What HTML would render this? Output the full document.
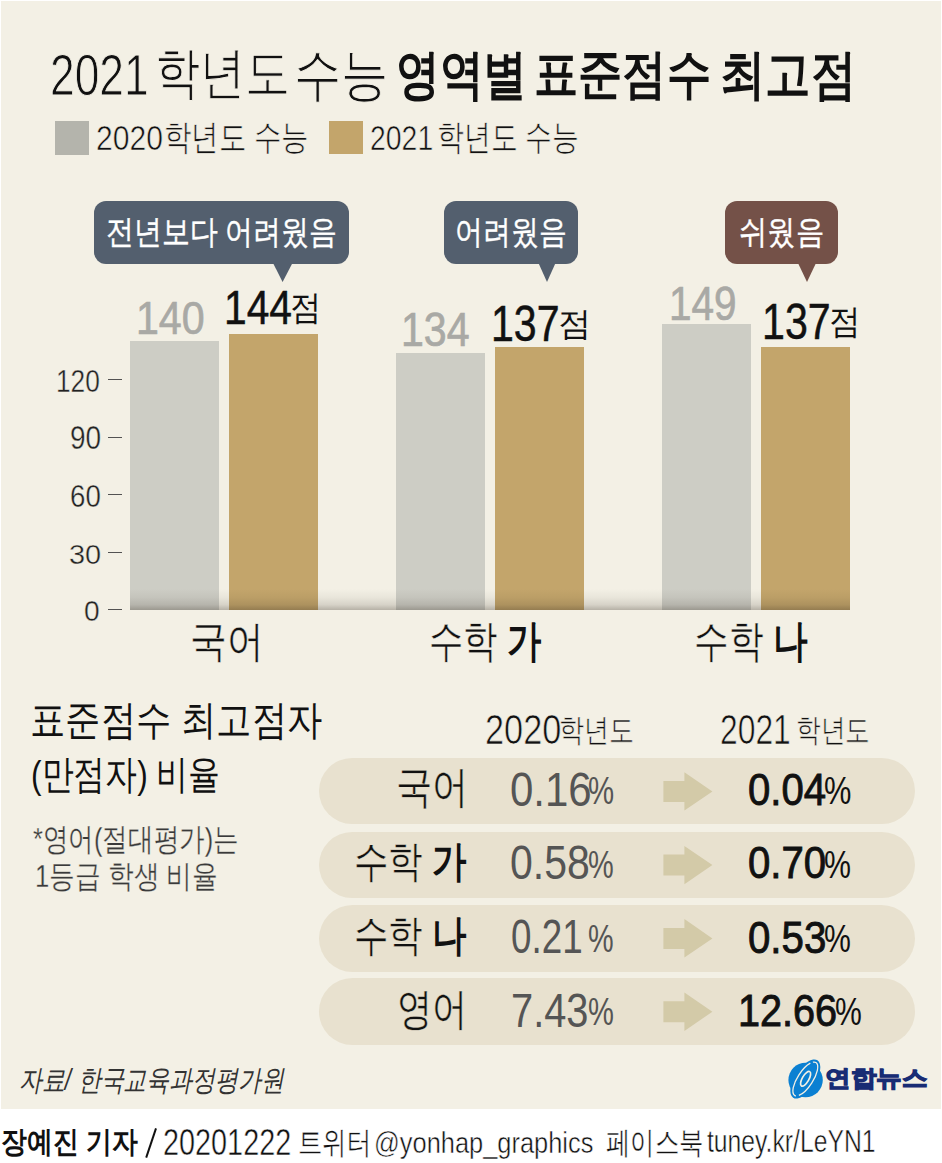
<!DOCTYPE html>
<html><head><meta charset="utf-8"><style>
html,body{margin:0;padding:0;background:#fff;width:942px;height:1163px;overflow:hidden;position:relative;font-family:"Liberation Sans",sans-serif}
.s{position:absolute}
.t{position:absolute;white-space:nowrap;line-height:1;transform-origin:0 0}
</style></head><body>
<div class="s" style="left:1px;top:1px;width:940px;height:1108px;background:#f3f0e5"></div>
<div class="s" style="left:55px;top:121px;width:34px;height:34px;background:#b4b4ac"></div>
<div class="s" style="left:329px;top:121px;width:34px;height:33px;background:#c3a56b"></div>
<!-- bubbles -->
<div class="s" style="left:94px;top:201px;width:255px;height:62.5px;border-radius:12px;background:#535f6e"></div>
<svg class="s" style="left:0;top:0" width="942" height="300"><polygon points="272.5,262 293,262 282.6,282" fill="#535f6e"/><polygon points="538,262 556,262 547,282" fill="#535f6e"/><polygon points="797.5,262 816.5,262 807,282" fill="#745148"/></svg>
<div class="s" style="left:444px;top:200.5px;width:134px;height:63px;border-radius:12px;background:#535f6e"></div>
<div class="s" style="left:725px;top:200.5px;width:113px;height:63px;border-radius:12px;background:#745148"></div>
<!-- bars -->
<div class="s" style="left:130px;top:341px;width:88.5px;height:268.5px;background:#cdcdc5"></div>
<div class="s" style="left:229px;top:333.5px;width:89px;height:276px;background:#c3a56b"></div>
<div class="s" style="left:396px;top:353px;width:88.6px;height:256.5px;background:#cdcdc5"></div>
<div class="s" style="left:495px;top:347px;width:89px;height:262.5px;background:#c3a56b"></div>
<div class="s" style="left:662px;top:324px;width:89px;height:285.5px;background:#cdcdc5"></div>
<div class="s" style="left:761px;top:347px;width:89px;height:262.5px;background:#c3a56b"></div>
<div class="s" style="left:130px;top:589px;width:720px;height:20.6px;background:linear-gradient(rgba(40,30,20,0) 0%,rgba(40,30,20,0.05) 40%,rgba(40,30,20,0.14) 75%,rgba(40,30,20,0.3) 100%)"></div>
<!-- ticks -->
<div class="s" style="left:108.4px;top:379px;width:13.5px;height:1px;background:#525252"></div>
<div class="s" style="left:108.4px;top:437px;width:13.5px;height:1px;background:#525252"></div>
<div class="s" style="left:108.4px;top:494px;width:13.5px;height:1px;background:#525252"></div>
<div class="s" style="left:108.4px;top:552px;width:13.5px;height:1px;background:#525252"></div>
<div class="s" style="left:108.4px;top:609px;width:13.5px;height:1px;background:#525252"></div>
<!-- pills -->
<div class="s" style="left:318.5px;top:758px;width:596px;height:66.4px;border-radius:33.2px;background:#e8e1cf"></div>
<div class="s" style="left:318.5px;top:831.5px;width:596px;height:66.5px;border-radius:33.2px;background:#e8e1cf"></div>
<div class="s" style="left:318.5px;top:904.6px;width:596px;height:67.2px;border-radius:33.6px;background:#e8e1cf"></div>
<div class="s" style="left:318.5px;top:978px;width:596px;height:66.9px;border-radius:33.4px;background:#e8e1cf"></div>
<!-- arrows -->
<svg class="s" style="left:0;top:0" width="942" height="1163">
<g fill="#d3caa8">
<polygon points="663.4,780.9 684.4,780.9 684.4,772.2 712.4,791.4 684.4,810.6 684.4,801.9 663.4,801.9"/>
<polygon points="663.4,854.6 684.4,854.6 684.4,845.9 712.4,865.1 684.4,884.3 684.4,875.6 663.4,875.6"/>
<polygon points="663.4,927.9 684.4,927.9 684.4,919.1 712.4,938.4 684.4,957.6 684.4,948.9 663.4,948.9"/>
<polygon points="663.4,1001.2 684.4,1001.2 684.4,992.5 712.4,1011.7 684.4,1030.9 684.4,1022.2 663.4,1022.2"/>
</g>
<line x1="146.2" y1="1157.6" x2="156" y2="1128.4" stroke="#111" stroke-width="2"/>
<!-- logo -->
<g transform="translate(780,1052)">
<circle cx="25.6" cy="28" r="17.2" fill="#0b80d2"/>
<ellipse cx="25.3" cy="27" rx="22.3" ry="10.5" transform="rotate(-57 25.3 27)" fill="#0b80d2"/>
<ellipse cx="25.3" cy="27" rx="19.6" ry="7.6" transform="rotate(-57 25.3 27)" fill="none" stroke="#f3f0e5" stroke-width="1.3" stroke-dasharray="40 3 40 3"/>
<ellipse cx="25.6" cy="26.8" rx="8.3" ry="3.3" transform="rotate(-60 25.6 26.8)" fill="none" stroke="#f3f0e5" stroke-width="1.7"/>
</g>
</svg>
<div class="t thin" id="title1" style="left:50.35px;top:45.88px;font-size:58.19px;transform:scaleX(0.7618);color:#111;font-weight:400;-webkit-text-stroke:1.00px #f3f0e5">2021</div>
<div class="t thin" id="title1k" style="left:155.24px;top:44.90px;font-size:56.15px;transform:scaleX(0.8061);color:#111;font-weight:400;-webkit-text-stroke:1.00px #f3f0e5">학년도</div>
<div class="t thin" id="title1s" style="left:293.81px;top:46.70px;font-size:56.54px;transform:scaleX(0.8301);color:#111;font-weight:400;-webkit-text-stroke:1.00px #f3f0e5">수능</div>
<div class="t" id="title2" style="left:396.05px;top:47.12px;font-size:54.15px;transform:scaleX(0.8094);color:#111;font-weight:700">영역별</div>
<div class="t" id="title2b" style="left:533.99px;top:47.82px;font-size:52.86px;transform:scaleX(0.8342);color:#111;font-weight:700">표준점수</div>
<div class="t" id="title2c" style="left:719.93px;top:47.96px;font-size:53.50px;transform:scaleX(0.8394);color:#111;font-weight:700">최고점</div>
<div class="t thin" id="leg1" style="left:95.59px;top:121.30px;font-size:35.43px;transform:scaleX(0.8508);color:#111;font-weight:400;-webkit-text-stroke:0.60px #f3f0e5">2020</div>
<div class="t thin" id="leg1k" style="left:163.50px;top:120.08px;font-size:34.88px;transform:scaleX(0.7842);color:#111;font-weight:400;-webkit-text-stroke:0.60px #f3f0e5">학년도 수능</div>
<div class="t thin" id="leg2" style="left:370.08px;top:121.30px;font-size:35.43px;transform:scaleX(0.8019);color:#111;font-weight:400;-webkit-text-stroke:0.60px #f3f0e5">2021</div>
<div class="t thin" id="leg2k" style="left:437.40px;top:119.60px;font-size:34.95px;transform:scaleX(0.7673);color:#111;font-weight:400;-webkit-text-stroke:0.60px #f3f0e5">학년도 수능</div>
<div class="t" id="bub1" style="left:105.62px;top:214.69px;font-size:33.05px;transform:scaleX(0.8460);color:#fff;font-weight:400;-webkit-text-stroke:0.40px #fff">전년보다 어려웠음</div>
<div class="t" id="bub2" style="left:454.63px;top:214.69px;font-size:33.05px;transform:scaleX(0.8451);color:#fff;font-weight:400;-webkit-text-stroke:0.40px #fff">어려웠음</div>
<div class="t" id="bub3" style="left:738.98px;top:214.69px;font-size:33.05px;transform:scaleX(0.8572);color:#fff;font-weight:400;-webkit-text-stroke:0.40px #fff">쉬웠음</div>
<div class="t" id="v140" style="left:136.40px;top:295.46px;font-size:46.23px;transform:scaleX(0.8892);color:#a9a9a5;font-weight:400;-webkit-text-stroke:0.70px #a9a9a5">140</div>
<div class="t" id="v144" style="left:223.96px;top:282.97px;font-size:48.09px;transform:scaleX(0.8481);color:#111;font-weight:400;-webkit-text-stroke:0.50px #111">144</div>
<div class="t" id="v144j" style="left:290.08px;top:291.16px;font-size:33.84px;transform:scaleX(0.9210);color:#111;font-weight:400">점</div>
<div class="t" id="v134" style="left:401.10px;top:305.27px;font-size:48.37px;transform:scaleX(0.8495);color:#a9a9a5;font-weight:400;-webkit-text-stroke:0.70px #a9a9a5">134</div>
<div class="t" id="v137a" style="left:490.95px;top:300.07px;font-size:49.10px;transform:scaleX(0.8374);color:#111;font-weight:400;-webkit-text-stroke:0.50px #111">137</div>
<div class="t" id="v137aj" style="left:558.24px;top:306.99px;font-size:33.05px;transform:scaleX(1.0074);color:#111;font-weight:400">점</div>
<div class="t" id="v149" style="left:668.95px;top:278.90px;font-size:48.47px;transform:scaleX(0.8361);color:#a9a9a5;font-weight:400;-webkit-text-stroke:0.70px #a9a9a5">149</div>
<div class="t" id="v137b" style="left:761.57px;top:298.17px;font-size:49.10px;transform:scaleX(0.8381);color:#111;font-weight:400;-webkit-text-stroke:0.50px #111">137</div>
<div class="t" id="v137bj" style="left:829.13px;top:305.15px;font-size:33.84px;transform:scaleX(0.9299);color:#111;font-weight:400">점</div>
<div class="t thin" id="y120" style="left:56.48px;top:364.70px;font-size:32.26px;transform:scaleX(0.8148);color:#222;font-weight:400;-webkit-text-stroke:0.40px #f3f0e5">120</div>
<div class="t thin" id="y90" style="left:69.82px;top:422.43px;font-size:32.67px;transform:scaleX(0.8571);color:#222;font-weight:400;-webkit-text-stroke:0.40px #f3f0e5">90</div>
<div class="t thin" id="y60" style="left:69.72px;top:480.54px;font-size:31.79px;transform:scaleX(0.8708);color:#222;font-weight:400;-webkit-text-stroke:0.40px #f3f0e5">60</div>
<div class="t thin" id="y30" style="left:69.22px;top:539.59px;font-size:28.35px;transform:scaleX(1.0204);color:#222;font-weight:400;-webkit-text-stroke:0.40px #f3f0e5">30</div>
<div class="t thin" id="y0" style="left:84.34px;top:597.03px;font-size:29.14px;transform:scaleX(0.9661);color:#222;font-weight:400;-webkit-text-stroke:0.40px #f3f0e5">0</div>
<div class="t thin" id="cat1" style="left:189.65px;top:619.70px;font-size:43.25px;transform:scaleX(0.8554);color:#111;font-weight:400;-webkit-text-stroke:0.40px #f3f0e5">국어</div>
<div class="t thin" id="cat2" style="left:428.66px;top:618.90px;font-size:43.75px;transform:scaleX(0.7801);color:#111;font-weight:400;-webkit-text-stroke:0.40px #f3f0e5">수학 <b style="-webkit-text-stroke:0">가</b></div>
<div class="t thin" id="cat3" style="left:694.49px;top:618.90px;font-size:43.75px;transform:scaleX(0.7874);color:#111;font-weight:400;-webkit-text-stroke:0.40px #f3f0e5">수학 <b style="-webkit-text-stroke:0">나</b></div>
<div class="t" id="sec1" style="left:30.44px;top:700.44px;font-size:41.02px;transform:scaleX(0.8618);color:#111;font-weight:400">표준점수 최고점자</div>
<div class="t" id="sec2" style="left:31.48px;top:754.85px;font-size:39.64px;transform:scaleX(0.7973);color:#111;font-weight:400">(만점자) 비율</div>
<div class="t thin" id="note1" style="left:32.90px;top:823.63px;font-size:31.71px;transform:scaleX(0.7994);color:#3a3a3a;font-weight:400;-webkit-text-stroke:0.30px #f3f0e5">*영어(절대평가)는</div>
<div class="t thin" id="note2" style="left:34.74px;top:861.34px;font-size:31.95px;transform:scaleX(0.8039);color:#3a3a3a;font-weight:400;-webkit-text-stroke:0.30px #f3f0e5">1등급 학생 비율</div>
<div class="t thin" id="h2020" style="left:485.17px;top:708.72px;font-size:42.43px;transform:scaleX(0.8083);color:#111;font-weight:400;-webkit-text-stroke:0.70px #f3f0e5">2020</div>
<div class="t thin" id="h2020k" style="left:558.95px;top:715.15px;font-size:31.63px;transform:scaleX(0.7833);color:#111;font-weight:400;-webkit-text-stroke:0.60px #f3f0e5">학년도</div>
<div class="t thin" id="h2021" style="left:720.48px;top:708.72px;font-size:42.43px;transform:scaleX(0.7501);color:#111;font-weight:400;-webkit-text-stroke:0.70px #f3f0e5">2021</div>
<div class="t thin" id="h2021k" style="left:795.60px;top:715.12px;font-size:31.63px;transform:scaleX(0.7715);color:#111;font-weight:400;-webkit-text-stroke:0.60px #f3f0e5">학년도</div>
<div class="t thin" id="r1" style="left:395.93px;top:765.45px;font-size:43.69px;transform:scaleX(0.8249);color:#111;font-weight:400;-webkit-text-stroke:0.40px #e8e1cf">국어</div>
<div class="t thin" id="r2" style="left:353.89px;top:841.14px;font-size:42.50px;transform:scaleX(0.8022);color:#111;font-weight:400;-webkit-text-stroke:0.40px #e8e1cf">수학 <b style="-webkit-text-stroke:0">가</b></div>
<div class="t thin" id="r3" style="left:353.85px;top:914.02px;font-size:42.95px;transform:scaleX(0.8005);color:#111;font-weight:400;-webkit-text-stroke:0.40px #e8e1cf">수학 <b style="-webkit-text-stroke:0">나</b></div>
<div class="t thin" id="r4" style="left:397.41px;top:987.58px;font-size:43.62px;transform:scaleX(0.8040);color:#111;font-weight:400;-webkit-text-stroke:0.40px #e8e1cf">영어</div>
<div class="t" id="a1" style="left:510.29px;top:764.88px;font-size:48.71px;transform:scaleX(0.8619);color:#555;font-weight:400">0.16</div>
<div class="t" id="a1p" style="left:588.21px;top:771.42px;font-size:39.29px;transform:scaleX(0.7466);color:#555;font-weight:400">%</div>
<div class="t" id="a2" style="left:510.34px;top:837.88px;font-size:48.71px;transform:scaleX(0.8420);color:#555;font-weight:400">0.58</div>
<div class="t" id="a2p" style="left:588.16px;top:845.53px;font-size:38.72px;transform:scaleX(0.7466);color:#555;font-weight:400">%</div>
<div class="t" id="a3" style="left:511.45px;top:913.19px;font-size:48.05px;transform:scaleX(0.7655);color:#555;font-weight:400">0.21</div>
<div class="t" id="a3p" style="left:588.17px;top:921.12px;font-size:37.86px;transform:scaleX(0.7607);color:#555;font-weight:400">%</div>
<div class="t" id="a4" style="left:511.23px;top:986.57px;font-size:48.05px;transform:scaleX(0.8284);color:#555;font-weight:400">7.43</div>
<div class="t" id="a4p" style="left:588.22px;top:991.80px;font-size:38.98px;transform:scaleX(0.7470);color:#555;font-weight:400">%</div>
<div class="t" id="b1" style="left:747.76px;top:768.13px;font-size:44.90px;transform:scaleX(0.8938);color:#111;font-weight:400;-webkit-text-stroke:0.90px #111">0.04</div>
<div class="t" id="b1p" style="left:824.04px;top:771.42px;font-size:39.29px;transform:scaleX(0.7831);color:#111;font-weight:400">%</div>
<div class="t" id="b2" style="left:747.74px;top:841.13px;font-size:44.90px;transform:scaleX(0.8947);color:#111;font-weight:400;-webkit-text-stroke:0.90px #111">0.70</div>
<div class="t" id="b2p" style="left:824.04px;top:845.53px;font-size:38.72px;transform:scaleX(0.7830);color:#111;font-weight:400">%</div>
<div class="t" id="b3" style="left:747.73px;top:915.52px;font-size:43.84px;transform:scaleX(0.9175);color:#111;font-weight:400;-webkit-text-stroke:0.90px #111">0.53</div>
<div class="t" id="b3p" style="left:824.04px;top:921.12px;font-size:37.86px;transform:scaleX(0.7978);color:#111;font-weight:400">%</div>
<div class="t" id="b4" style="left:738.05px;top:988.85px;font-size:43.84px;transform:scaleX(0.9039);color:#111;font-weight:400;-webkit-text-stroke:0.90px #111">12.66</div>
<div class="t" id="b4p" style="left:835.24px;top:991.80px;font-size:38.98px;transform:scaleX(0.7732);color:#111;font-weight:400">%</div>
<div class="t" id="src" style="left:18.70px;top:1065.50px;font-size:29.08px;transform:scaleX(0.7904);color:#333;font-weight:400"><i>자료/ 한국교육과정평가원</i></div>
<div class="t" id="logo" style="left:825.09px;top:1067.40px;font-size:22.94px;transform:scaleX(1.1126);color:#182c74;font-weight:700;-webkit-text-stroke:1.20px #182c74">연합뉴스</div>
<div class="t" id="foot1" style="left:1.47px;top:1126.26px;font-size:30.49px;transform:scaleX(0.8620);color:#111;font-weight:700">장예진 기자</div>
<div class="t thin" id="foot3" style="left:163.39px;top:1125.01px;font-size:36.20px;transform:scaleX(0.7963);color:#111;font-weight:400;-webkit-text-stroke:0.50px #ffffff">20201222</div>
<div class="t thin" id="foot4" style="left:297.58px;top:1127.35px;font-size:30.61px;transform:scaleX(0.7883);color:#111;font-weight:400;-webkit-text-stroke:0.40px #ffffff">트위터</div>
<div class="t thin" id="foot5" style="left:373.73px;top:1128.03px;font-size:29.81px;transform:scaleX(0.8530);color:#111;font-weight:400;-webkit-text-stroke:0.50px #ffffff">@yonhap_graphics</div>
<div class="t thin" id="foot6" style="left:606.22px;top:1127.18px;font-size:31.42px;transform:scaleX(0.7873);color:#111;font-weight:400;-webkit-text-stroke:0.40px #ffffff">페이스북</div>
<div class="t thin" id="foot7" style="left:707.49px;top:1126.16px;font-size:30.65px;transform:scaleX(0.8064);color:#111;font-weight:400;-webkit-text-stroke:0.50px #ffffff">tuney.kr/LeYN1</div>
</body></html>
